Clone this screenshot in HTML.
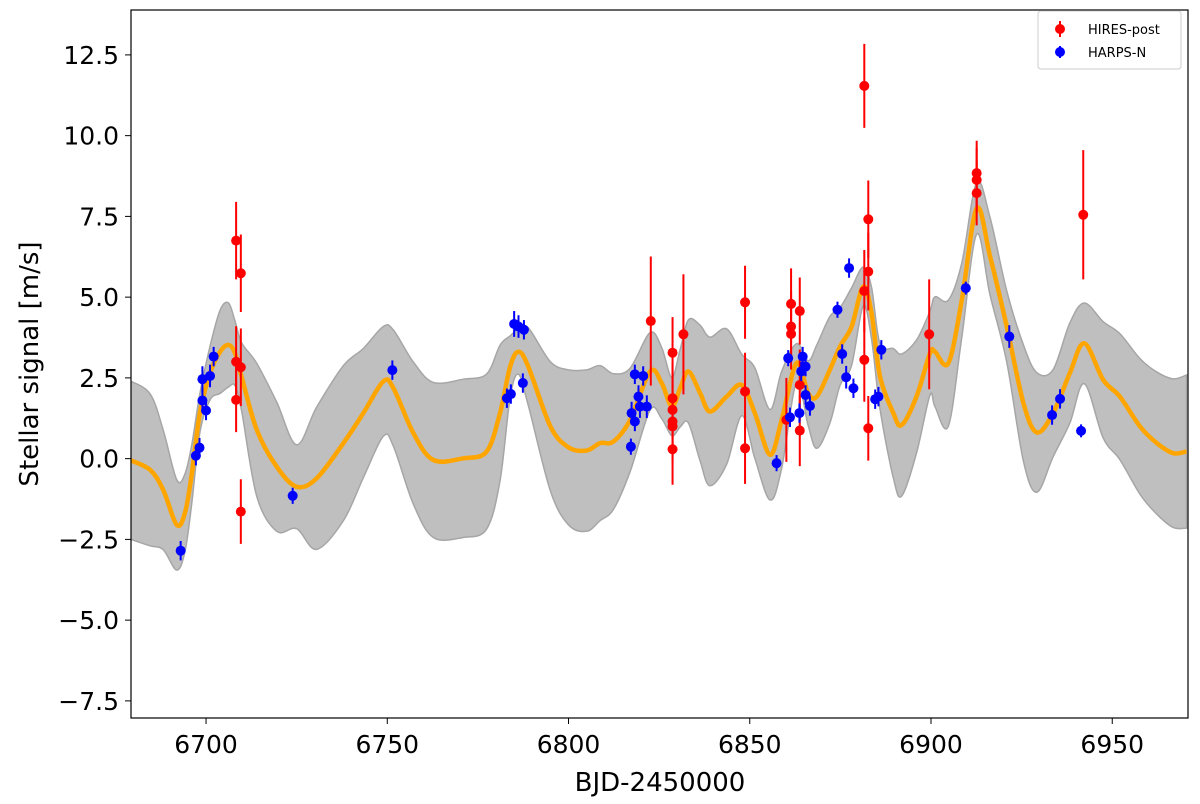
<!DOCTYPE html>
<html><head><meta charset="utf-8">
<style>
html,body{margin:0;padding:0;background:#fff;}
svg{display:block;font-family:"DejaVu Sans","Liberation Sans",sans-serif;}
</style></head>
<body>
<svg id="chart" width="1200" height="804" viewBox="0 0 1200 804" xmlns="http://www.w3.org/2000/svg">
  <g id="band-layer"></g>
  <g id="mean-layer"></g>
  <g id="hires-layer"></g>
  <g id="harps-layer"></g>
  <rect x="131" y="10" width="1057" height="708" fill="none" stroke="#000" stroke-width="1.2"/>
  <g id="xticks"></g>
  <g id="yticks"></g>
  <text x="660" y="791" font-size="26" text-anchor="middle">BJD-2450000</text>
  <text transform="translate(38,364) rotate(-90)" font-size="26" text-anchor="middle">Stellar signal [m/s]</text>
  <g>
    <rect x="1038" y="11" width="143" height="58" rx="3" fill="#fff" stroke="#ccc" stroke-width="1"/>
    <g>
      <line x1="1060" y1="21" x2="1060" y2="37" stroke="#ff0000" stroke-width="2"/>
      <circle cx="1060" cy="29" r="5" fill="#ff0000"/>
      <text x="1088" y="34" font-size="13">HIRES-post</text>
    </g>
    <g>
      <line x1="1060" y1="46" x2="1060" y2="58" stroke="#0000ff" stroke-width="2"/>
      <circle cx="1060" cy="52" r="5" fill="#0000ff"/>
      <text x="1088" y="57" font-size="13">HARPS-N</text>
    </g>
  </g>
</svg>
<script>
const xTicks = [6700, 6750, 6800, 6850, 6900, 6950];
const yTicks = [-7.5, -5.0, -2.5, 0.0, 2.5, 5.0, 7.5, 10.0, 12.5];

const gpDays = [6679.0,6684.6,6688.2,6691.9,6694.2,6696.1,6698.3,6701.1,6703.9,6706.2,6708.0,6709.8,6714.0,6719.5,6725.0,6730.5,6737.9,6743.4,6748.9,6751.7,6757.2,6762.7,6771.0,6777.4,6781.1,6783.9,6786.2,6788.9,6795,6800,6805,6808.7,6812.4,6817.0,6822.5,6825.7,6828.5,6830.8,6833.1,6836.3,6839.0,6843.6,6847.8,6851.4,6855.6,6858.8,6862.9,6866.1,6868.5,6872.1,6874.9,6878.1,6881.3,6883.6,6885.9,6889.6,6891.9,6896.0,6899.7,6901.1,6904.8,6908.5,6912.6,6916.3,6920.9,6925.5,6929.2,6933.7,6938.3,6942.3,6947.5,6952.1,6957.7,6962.3,6966.8,6970.5];
const gpMean = [-0.04,-0.35,-0.97,-2.05,-1.67,-0.45,1.41,2.65,3.31,3.52,3.26,2.54,0.89,-0.25,-0.87,-0.61,0.48,1.41,2.39,2.18,0.79,-0.04,0.01,0.22,1.41,2.85,3.31,2.85,1.0,0.35,0.25,0.48,0.53,1.20,2.70,2.34,1.61,2.18,2.70,2.03,1.46,1.92,2.28,1.41,0.12,1.20,2.96,2.03,1.92,2.75,3.47,4.09,5.33,4.50,2.56,1.41,1.04,1.92,3.26,3.31,2.96,4.91,7.75,6.26,4.09,1.72,0.81,1.41,2.65,3.57,2.44,1.92,0.99,0.48,0.17,0.22];
const gpSigma = [2.45,2.35,1.85,1.4,1.2,0.9,0.6,0.83,1.29,1.3,1.0,1.05,2.06,2.0,1.3,2.2,2.4,2.0,1.7,1.8,2.2,2.4,2.45,2.4,2.1,0.95,0.7,1.2,2.0,2.4,2.5,2.4,2.1,1.6,1.2,1.1,0.9,1.2,1.6,2.1,2.3,2.1,0.95,1.4,1.4,1.5,0.6,1.0,1.6,1.65,1.2,1.2,0.6,0.8,1.0,2.0,2.2,1.75,1.3,1.7,1.95,1.15,0.8,1.2,1.1,1.8,1.85,1.35,1.55,1.25,1.8,1.95,2.1,2.2,2.3,2.37];

const hiresDays = [6708.3,6709.6,6708.3,6709.6,6708.3,6709.6,6822.7,6828.7,6828.7,6828.7,6828.7,6828.7,6828.7,6831.7,6848.7,6848.7,6848.7,6861.4,6861.4,6861.4,6860.1,6863.8,6863.8,6863.8,6881.6,6881.6,6882.7,6882.7,6882.7,6881.6,6899.5,6912.6,6912.6,6912.6,6942.0];
const hiresVals = [6.75,5.74,3.0,2.83,1.82,-1.64,4.26,3.28,1.87,1.51,1.15,1.0,0.29,3.85,4.84,2.08,0.32,4.79,4.09,3.86,1.2,4.57,2.28,0.87,5.19,3.06,7.41,5.79,0.94,11.54,3.85,8.84,8.63,8.22,7.55];
const hiresErrs = [1.2,1.2,1.1,1.2,1.0,1.0,2.0,1.1,1.1,1.1,1.1,1.1,1.1,1.86,1.13,1.2,1.1,1.1,1.1,1.1,1.3,1.04,1.1,1.1,1.27,1.3,1.2,1.2,1.0,1.3,1.7,1.0,1.0,1.0,2.0];

const harpsDays = [6693.0,6697.2,6698.2,6699.0,6699.0,6700.0,6701.1,6702.1,6723.9,6751.4,6783.0,6784.1,6785.0,6786.2,6787.7,6787.4,6817.2,6817.4,6818.3,6818.3,6820.6,6819.3,6819.7,6821.6,6857.4,6860.6,6861.1,6863.7,6864.6,6864.2,6865.4,6865.4,6866.6,6874.2,6875.5,6876.6,6878.6,6877.4,6886.3,6884.6,6885.5,6909.6,6921.6,6933.4,6935.6,6941.4];
const harpsVals = [-2.85,0.09,0.34,2.46,1.80,1.49,2.56,3.16,-1.15,2.74,1.87,2.0,4.17,4.09,3.99,2.34,0.37,1.41,1.15,2.61,2.56,1.92,1.61,1.61,-0.14,3.11,1.28,1.41,3.16,2.70,2.85,1.97,1.63,4.61,3.24,2.52,2.18,5.90,3.37,1.84,1.92,5.28,3.78,1.35,1.85,0.86];
const harpsErrs = [0.3,0.3,0.3,0.4,0.35,0.3,0.35,0.3,0.25,0.3,0.3,0.3,0.4,0.35,0.3,0.3,0.25,0.35,0.3,0.3,0.3,0.35,0.35,0.35,0.25,0.25,0.3,0.3,0.3,0.3,0.3,0.3,0.3,0.25,0.3,0.35,0.3,0.3,0.3,0.3,0.3,0.2,0.35,0.3,0.3,0.2];

const X0 = 6679.3, X1 = 6970.9, PL = 131, PR = 1188;
const Y0 = -8.03, Y1 = 13.89, PB = 718, PT = 10;
function xScale(d){ return PL + (d - X0) / (X1 - X0) * (PR - PL); }
function yScale(v){ return PB - (v - Y0) / (Y1 - Y0) * (PB - PT); }

const NS = 'http://www.w3.org/2000/svg';
function mk(tag, attrs, parent){
  const e = document.createElementNS(NS, tag);
  for (const k in attrs) e.setAttribute(k, attrs[k]);
  parent.appendChild(e);
  return e;
}
function smoothPath(pts, move){
  let d = (move ? 'M' : 'L') + pts[0][0].toFixed(2) + ',' + pts[0][1].toFixed(2);
  for (let i = 0; i < pts.length - 1; i++){
    const p0 = pts[Math.max(i-1,0)], p1 = pts[i], p2 = pts[i+1], p3 = pts[Math.min(i+2,pts.length-1)];
    const c1x = p1[0] + (p2[0]-p0[0])/6, c1y = p1[1] + (p2[1]-p0[1])/6;
    const c2x = p2[0] - (p3[0]-p1[0])/6, c2y = p2[1] - (p3[1]-p1[1])/6;
    d += 'C' + c1x.toFixed(2)+','+c1y.toFixed(2)+' '+c2x.toFixed(2)+','+c2y.toFixed(2)+' '+p2[0].toFixed(2)+','+p2[1].toFixed(2);
  }
  return d;
}

const defs = mk('defs', {}, document.getElementById('chart'));
const cp = mk('clipPath', {id:'plotclip'}, defs);
mk('rect', {x:PL, y:PT, width:PR-PL, height:PB-PT}, cp);

const bandG = document.getElementById('band-layer');
bandG.setAttribute('clip-path', 'url(#plotclip)');
const upper = gpDays.map((d,i)=>[xScale(d), yScale(gpMean[i] + gpSigma[i])]);
const lower = gpDays.map((d,i)=>[xScale(d), yScale(gpMean[i] - gpSigma[i])]).reverse();
const band = mk('path', {d: smoothPath(upper, true) + smoothPath(lower, false) + 'Z', fill:'#bfbfbf', stroke:'#a6a6a6', 'stroke-width':1.5}, bandG);



const meanG = document.getElementById('mean-layer');
meanG.setAttribute('clip-path', 'url(#plotclip)');
const meanPts = gpDays.map((d,i)=>[xScale(d), yScale(gpMean[i])]);
const meanLine = mk('path', {d: smoothPath(meanPts, true), fill:'none', stroke:'#ffa500', 'stroke-width':4.5, 'stroke-linejoin':'round'}, meanG);



function drawSeries(g, days, vals, errs, color, name){
  for (let i = 0; i < days.length; i++){
    const cx = xScale(days[i]), cy = yScale(vals[i]);
    const grp = mk('g', {}, g);
    
    
    mk('line', {x1:cx, x2:cx, y1:yScale(vals[i]+errs[i]), y2:yScale(vals[i]-errs[i]), stroke:color, 'stroke-width':2}, grp);
    mk('circle', {cx:cx, cy:cy, r:5, fill:color}, grp);
  }
}
drawSeries(document.getElementById('hires-layer'), hiresDays, hiresVals, hiresErrs, '#ff0000', 'hires');
drawSeries(document.getElementById('harps-layer'), harpsDays, harpsVals, harpsErrs, '#0000ff', 'harps');

const xg = document.getElementById('xticks');
xTicks.forEach(t=>{
  const x = xScale(t);
  const tk = mk('line', {x1:x, x2:x, y1:PB, y2:PB+6, stroke:'#000', 'stroke-width':1}, xg);
  
  
  const lb = mk('text', {x:x, y:PB+35, 'font-size':25, 'text-anchor':'middle'}, xg);
  lb.textContent = String(t);
  
  
});
const yg = document.getElementById('yticks');
yTicks.forEach(t=>{
  const y = yScale(t);
  const tk = mk('line', {x1:PL-6, x2:PL, y1:y, y2:y, stroke:'#000', 'stroke-width':1}, yg);
  
  
  const lb = mk('text', {x:PL-12, y:y+9, 'font-size':25, 'text-anchor':'end'}, yg);
  lb.textContent = (t < 0 ? '\u2212' : '') + Math.abs(t).toFixed(1);
  
  
});
</script>
</body></html>
